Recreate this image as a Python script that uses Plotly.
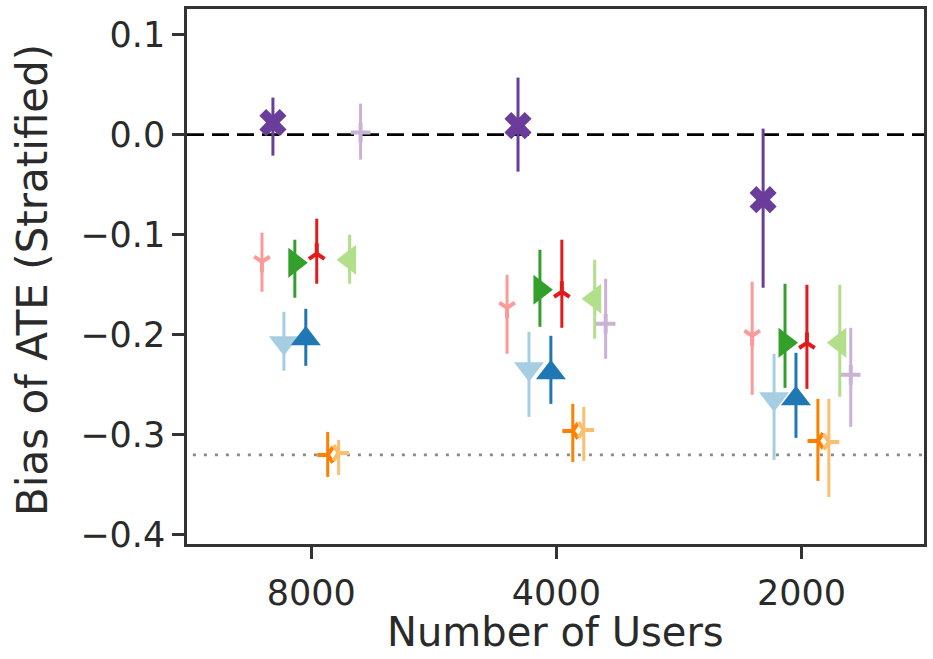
import plotly.graph_objects as go

# ---- data ----
user_counts = ["8000", "4000", "2000"]

series_names = ["pink", "purple", "lightblue", "green", "darkblue",
                "red", "orange", "lightorange", "lightgreen", "lightpurple"]

bias_pink        = [-0.127, -0.173, -0.201]
bias_purple      = [0.012, 0.009, -0.065]
bias_lightblue   = [-0.208, -0.234, -0.264]
bias_green       = [-0.128, -0.155, -0.208]
bias_darkblue    = [-0.204, -0.238, -0.264]
bias_red         = [-0.119, -0.157, -0.208]
bias_orange      = [-0.320, -0.296, -0.306]
bias_lightorange = [-0.318, -0.295, -0.307]
bias_lightgreen  = [-0.125, -0.164, -0.208]
bias_lightpurple = [0.002, -0.189, -0.240]

upper_pink        = [-0.098, -0.140, -0.147]
upper_purple      = [0.037, 0.057, 0.006]
upper_lightblue   = [-0.177, -0.197, -0.219]
upper_green       = [-0.105, -0.115, -0.149]
upper_darkblue    = [-0.174, -0.201, -0.218]
upper_red         = [-0.084, -0.105, -0.150]
upper_orange      = [-0.297, -0.269, -0.264]
upper_lightorange = [-0.305, -0.272, -0.264]
upper_lightgreen  = [-0.100, -0.125, -0.150]
upper_lightpurple = [0.031, -0.144, -0.193]

lower_pink        = [-0.157, -0.219, -0.260]
lower_purple      = [-0.021, -0.037, -0.153]
lower_lightblue   = [-0.236, -0.282, -0.325]
lower_green       = [-0.163, -0.192, -0.253]
lower_darkblue    = [-0.231, -0.269, -0.303]
lower_red         = [-0.149, -0.193, -0.254]
lower_orange      = [-0.342, -0.327, -0.346]
lower_lightorange = [-0.340, -0.326, -0.362]
lower_lightgreen  = [-0.149, -0.204, -0.262]
lower_lightpurple = [-0.025, -0.224, -0.292]

reference_zero = 0.0
reference_level = -0.32

y_ticks = [0.1, 0.0, -0.1, -0.2, -0.3, -0.4]

# ---- styles ----
values = [bias_pink, bias_purple, bias_lightblue, bias_green, bias_darkblue,
          bias_red, bias_orange, bias_lightorange, bias_lightgreen, bias_lightpurple]
uppers = [upper_pink, upper_purple, upper_lightblue, upper_green, upper_darkblue,
          upper_red, upper_orange, upper_lightorange, upper_lightgreen, upper_lightpurple]
lowers = [lower_pink, lower_purple, lower_lightblue, lower_green, lower_darkblue,
          lower_red, lower_orange, lower_lightorange, lower_lightgreen, lower_lightpurple]

colors = ["#fb9a99", "#6a3d9a", "#a6cee3", "#33a02c", "#1f78b4",
          "#e31a1c", "#ff7f00", "#fdbf6f", "#b2df8a", "#cab2d6"]
symbols = ["y-down", "x", "triangle-down", "triangle-right", "triangle-up",
           "y-up", "y-left", "y-right", "triangle-left", "cross-thin"]
sizes = [13, 24, 26, 26, 26, 13, 13, 13, 26, 14]
line_symbols = {"y-down", "y-up", "y-left", "y-right", "cross-thin"}
step = 0.0447

fig = go.Figure()

for k in range(len(values)):
    off = (k - 4.5) * step
    xs = [i + off for i in range(len(user_counts))]
    v = values[k]
    plus = [u - a for u, a in zip(uppers[k], v)]
    minus = [a - l for a, l in zip(v, lowers[k])]
    is_line = symbols[k] in line_symbols
    fig.add_trace(go.Scatter(
        x=xs, y=v, mode="markers", name=series_names[k],
        marker=dict(symbol=symbols[k], size=sizes[k], color=colors[k],
                    line=dict(color=colors[k], width=4 if is_line else 0)),
        error_y=dict(type="data", symmetric=False, array=plus, arrayminus=minus,
                     color=colors[k], thickness=3, width=0),
        showlegend=False,
    ))

fig.add_shape(type="line", xref="paper", yref="y", x0=0, x1=1,
              y0=reference_zero, y1=reference_zero,
              line=dict(color="black", width=2.6, dash="17px,8px"), layer="below")
fig.add_shape(type="line", xref="paper", yref="y", x0=0.008, x1=1,
              y0=reference_level, y1=reference_level,
              line=dict(color="#8a8a8a", width=2.6, dash="3px,8px"), layer="below")

axis_color = "#333333"
fig.update_layout(
    width=933, height=659,
    margin=dict(l=187, r=6, t=6, b=115),
    paper_bgcolor="white", plot_bgcolor="white",
    font=dict(family="DejaVu Sans", color="#2a2a2a"),
    xaxis=dict(range=[-0.507, 2.5], tickvals=[0, 1, 2], ticktext=user_counts,
               showgrid=False, zeroline=False, showline=True, mirror=True,
               linecolor=axis_color, linewidth=2.5, ticks="outside", ticklen=12,
               tickwidth=2.5, tickcolor=axis_color, tickfont=dict(size=35),
               ticklabelstandoff=4),
    yaxis=dict(range=[-0.409, 0.1255], tickvals=y_ticks, tickformat=".1f",
               showgrid=False, zeroline=False, showline=True, mirror=True,
               linecolor=axis_color, linewidth=2.5, ticks="outside", ticklen=12,
               tickwidth=2.5, tickcolor=axis_color, tickfont=dict(size=35)),
    annotations=[
        dict(text="Number of Users", xref="paper", yref="paper", x=0.5, y=-0.2115,
             xanchor="center", yanchor="bottom", showarrow=False,
             font=dict(size=40, family="DejaVu Sans", color="#2a2a2a")),
        dict(text="Bias of ATE (Stratified)", xref="paper", yref="paper",
             x=-0.2095, y=0.4926, xanchor="center", yanchor="middle",
             textangle=-90, showarrow=False,
             font=dict(size=42, family="DejaVu Sans", color="#2a2a2a")),
    ],
)

fig.write_html("out.html")
